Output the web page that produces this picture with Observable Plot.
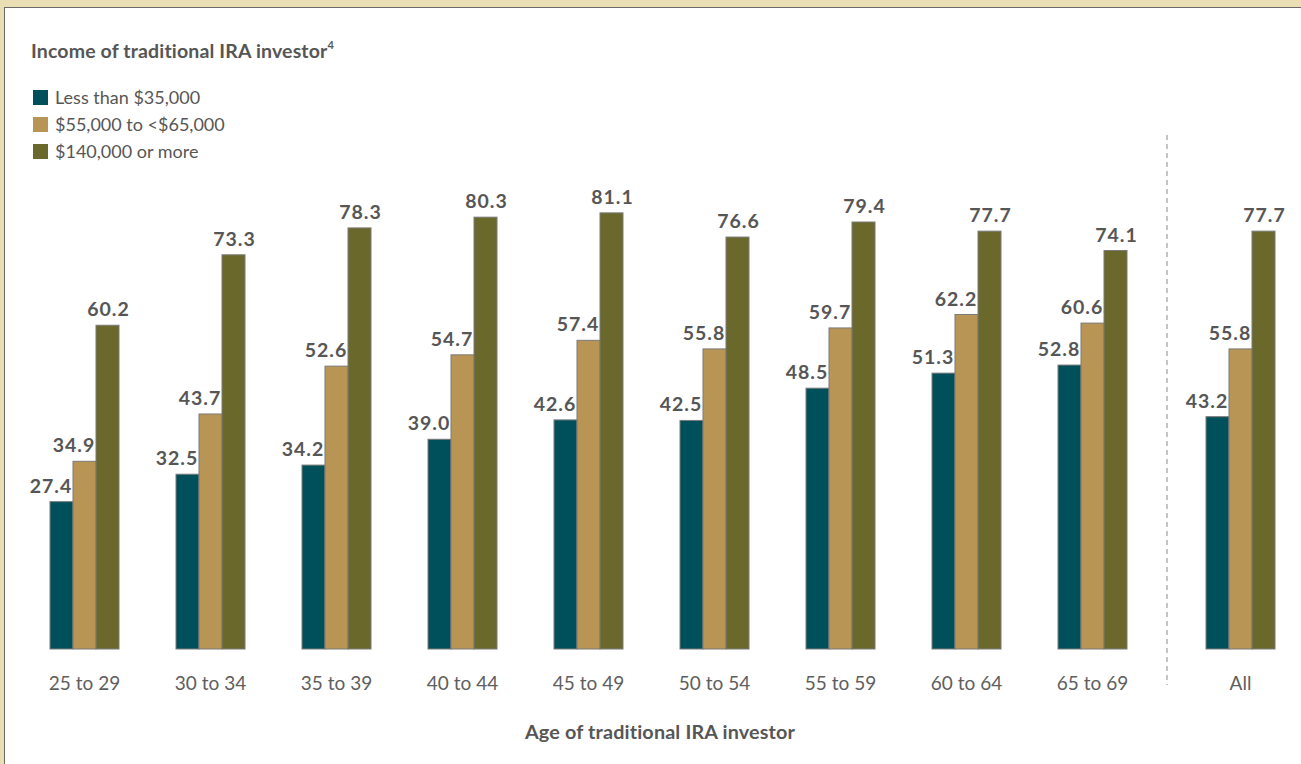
<!DOCTYPE html>
<html>
<head>
<meta charset="utf-8">
<script src="https://cdn.jsdelivr.net/npm/d3@7"></script>
<script src="https://cdn.jsdelivr.net/npm/@observablehq/plot@0.6"></script>
<style>
  html, body { margin: 0; padding: 0; }
  body { width: 1301px; height: 764px; background: #eadfb4; position: relative; overflow: hidden; font-family: Lato, "Open Sans", sans-serif; color: #565656; }
  #panel { position: absolute; left: 4px; top: 7px; right: 0; bottom: 0; background: #fff; border-top: 1.5px solid #6a6a6a; border-left: 1.5px solid #6a6a6a; }
  .abs { position: absolute; line-height: 1; white-space: nowrap; }
  #title { left: 31px; top: 39.5px; font-size: 19.5px; font-weight: bold; letter-spacing: 0.15px; }
  #title sup { font-size: 11px; position: relative; top: -1px; }
  .sw { position: absolute; left: 33px; width: 15px; height: 15px; }
  .lg { left: 55px; font-size: 18px; }
  #xtitle { left: 660px; top: 721.5px; transform: translateX(-50%); font-size: 19.8px; font-weight: bold; letter-spacing: 0.15px; }
  #plot1 { position: absolute; left: 0; top: 130px; }
  #plot2 { position: absolute; left: 1167px; top: 130px; }
  #sep { position: absolute; left: 1166px; top: 135px; }
  g[aria-label="text"] text { letter-spacing: 1px; }
  g[aria-label="fx-axis tick label"] text, g[aria-label^="fx-axis"] text { fill: #5e5e5e; }
</style>
</head>
<body>
<div id="panel"></div>
<div id="title" class="abs">Income of traditional IRA investor<sup>4</sup></div>
<div id="legend"></div>
<svg id="sep" width="2" height="550"><line x1="1" x2="1" y1="0" y2="550" stroke="#8a8a8a" stroke-width="1" stroke-dasharray="5,4"></line></svg>
<div id="plot1"></div>
<div id="plot2"></div>
<div id="xtitle" class="abs">Age of traditional IRA investor</div>
<script>
const ages = ["25 to 29", "30 to 34", "35 to 39", "40 to 44", "45 to 49", "50 to 54", "55 to 59", "60 to 64", "65 to 69"];
const series = ["Less than $35,000", "$55,000 to <$65,000", "$140,000 or more"];
const colors = ["#00505b", "#b89554", "#6a692b"];
const lessThan35k = [27.4, 32.5, 34.2, 39.0, 42.6, 42.5, 48.5, 51.3, 52.8];
const from55kTo65k = [34.9, 43.7, 52.6, 54.7, 57.4, 55.8, 59.7, 62.2, 60.6];
const over140k = [60.2, 73.3, 78.3, 80.3, 81.1, 76.6, 79.4, 77.7, 74.1];
const allLabel = ["All"];
const allValues = [43.2, 55.8, 77.7];

// legend
const legend = document.getElementById("legend");
series.forEach((s, i) => {
  const sw = document.createElement("div");
  sw.className = "sw";
  sw.style.top = (90 + i * 27) + "px";
  sw.style.background = colors[i];
  legend.appendChild(sw);
  const d = document.createElement("div");
  d.className = "abs lg";
  d.style.top = (87.5 + i * 27) + "px";
  d.textContent = s;
  legend.appendChild(d);
});

const seriesValues = [lessThan35k, from55kTo65k, over140k];
const rows = [];
ages.forEach((a, j) => series.forEach((s, i) => rows.push({age: a, series: s, value: seriesValues[i][j]})));
const allRows = series.map((s, i) => ({age: allLabel[0], series: s, value: allValues[i]}));

function chart(data, domain, opts) {
  return Plot.plot({
    width: opts.width, height: 575,
    marginTop: 35, marginBottom: 56, marginLeft: opts.ml, marginRight: opts.mr,
    fx: {domain, paddingInner: opts.pi, paddingOuter: opts.po, axis: "bottom", label: null, tickSize: 0, tickPadding: 27},
    x: {domain: series, padding: 0, axis: null},
    y: {domain: [0, 90], axis: null},
    color: {domain: series, range: colors},
    style: {fontFamily: "Lato, 'Open Sans', sans-serif", fontSize: "19px", color: "#5e5e5e", background: "transparent", overflow: "visible"},
    marks: [
      Plot.barY(data, {fx: "age", x: "series", y: "value", fill: "series", stroke: "#7a7a7a", strokeWidth: 1}),
      Plot.text(data.filter(d => d.series !== series[2]), {fx: "age", x: "series", y: "value", text: d => d.value.toFixed(1), lineAnchor: "bottom", dy: -9.5, dx: -11, fontSize: 19.5, fontWeight: "bold", fill: "#565656"}),
      Plot.text(data.filter(d => d.series === series[2]), {fx: "age", x: "series", y: "value", text: d => d.value.toFixed(1), lineAnchor: "bottom", dy: -9.5, dx: 0.5, fontSize: 19.5, fontWeight: "bold", fill: "#565656"})
    ]
  });
}

document.getElementById("plot1").appendChild(chart(rows, ages, {width: 1167, ml: 30, mr: 20.6, pi: 0.446, po: 0.1425}));
document.getElementById("plot2").appendChild(chart(allRows, allLabel, {width: 134, ml: 38, mr: 25.6, pi: 0, po: 0}));
</script>
</body>
</html>
